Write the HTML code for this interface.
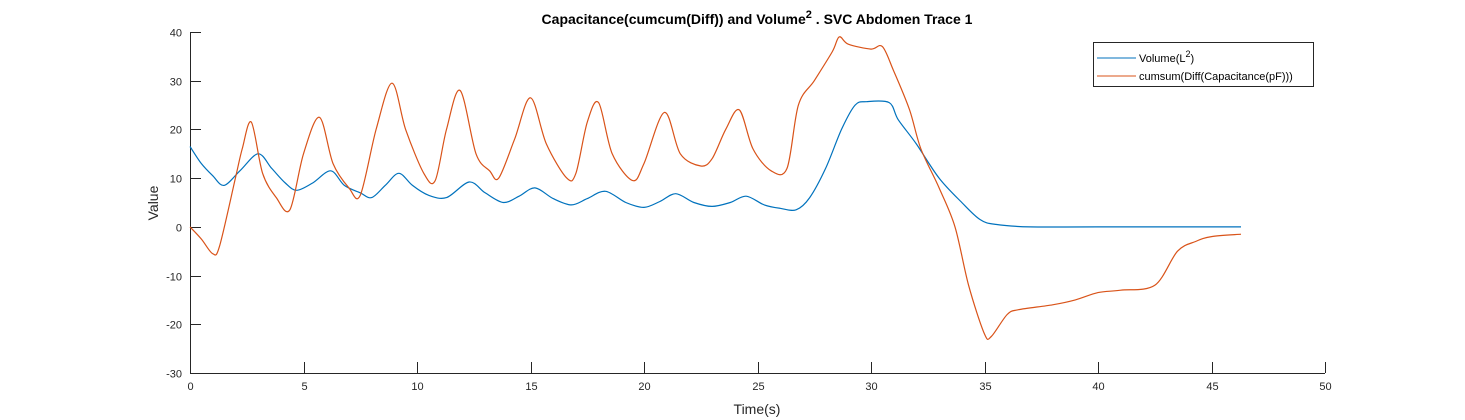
<!DOCTYPE html>
<html><head><meta charset="utf-8">
<style>
html,body{margin:0;padding:0;background:#fff;}
svg{display:block;font-family:"Liberation Sans",Arial,sans-serif;}
</style></head>
<body>
<svg id="chart" width="1465" height="420" viewBox="0 0 1465 420">
<rect x="0" y="0" width="1465" height="420" fill="#fff"/>
<text x="757" y="24" text-anchor="middle" font-size="14" font-weight="bold" fill="#000">Capacitance(cumcum(Diff)) and Volume<tspan dy="-6" font-size="11">2</tspan><tspan dy="6"> . SVC Abdomen Trace 1</tspan></text>
<g id="axes"></g>
<g id="series"></g>
<text x="757" y="414" text-anchor="middle" font-size="14" fill="#262626">Time(s)</text>
<text transform="translate(158,203) rotate(-90)" text-anchor="middle" font-size="14" fill="#262626">Value</text>
<g>
<rect x="1093.5" y="42.5" width="220" height="44" fill="#fff" stroke="#262626" stroke-width="1"/>
<line x1="1097" y1="58" x2="1136" y2="58" stroke="#0072BD" stroke-width="1"/>
<text x="1139" y="62" font-size="11" fill="#000">Volume(L<tspan dy="-5" font-size="9">2</tspan><tspan dy="5">)</tspan></text>
<line x1="1097" y1="76" x2="1136" y2="76" stroke="#D95319" stroke-width="1"/>
<text x="1139" y="80" font-size="11" fill="#000">cumsum(Diff(Capacitance(pF)))</text>
</g>
</svg>
<script>
const xTicks=[0,5,10,15,20,25,30,35,40,45,50];
const yTicks=[-30,-20,-10,0,10,20,30,40];
const volT=[0,0.5,1,1.5,2.2,3,3.6,4.2,4.7,5.4,6.2,6.8,7.5,8,8.6,9.2,9.8,10.5,11.3,12.3,13,13.8,14.5,15.2,16,16.8,17.5,18.3,19.2,20,20.7,21.4,22.2,23,23.8,24.5,25.3,26,26.7,27.3,28,28.7,29.3,29.8,30.8,31.2,32,33,34,34.8,35.5,37,40,46.3];
const volV=[16.5,13,10.5,8.5,11.5,15,12,9,7.5,9,11.5,8.5,7,6,8.5,11,8.5,6.5,6,9.2,7,5,6.3,8,5.8,4.5,5.8,7.3,5,4,5.2,6.8,5,4.2,5,6.3,4.5,3.8,3.5,6,12,20,25,25.7,25.5,22,17,10,5,1.5,0.5,0,0,0];
const capT=[0,0.5,1,1.3,2,2.3,2.7,3.2,3.8,4.4,5,5.7,6.3,7,7.5,8.2,8.9,9.5,10.3,10.8,11.3,11.9,12.6,13.2,13.6,14.3,15,15.7,16.6,17,17.5,18,18.6,19.5,20,20.9,21.6,22.5,23,23.6,24.2,24.8,25.6,26.3,26.8,27.5,28.3,28.6,29,30,30.5,31,31.7,32.2,33,33.7,34.3,35,35.3,36,36.5,38,39,40,41,42.5,43.5,44.3,45,46.3];
const capV=[0,-2.5,-5.5,-4,10,16,21.5,11,6,3.5,15,22.5,13,8,6.5,20,29.5,20,11,9.5,20,28,15,11.5,10,18,26.5,17,10,11,21.5,25.5,15,9.5,13,23.5,15,12.5,14,20,24,16,11.5,12,25,30,36,39,37.5,36.5,37,32,24,16,8,0,-12,-22,-22.5,-18,-17,-16,-15,-13.5,-13,-12,-5,-3,-2,-1.5];
const X0=190,X1=1325,Y0=373,Y1=32;
function xs(t){return X0+(t-0)/(50-0)*(X1-X0);}
function ys(v){return Y0-(v-(-30))/(40-(-30))*(Y0-Y1);}
const NS='http://www.w3.org/2000/svg';
const axes=document.getElementById('axes');
const series=document.getElementById('series');
function mk(tag,attrs,parent){const e=document.createElementNS(NS,tag);for(const k in attrs)e.setAttribute(k,attrs[k]);parent.appendChild(e);return e;}
const xa=mk('line',{x1:X0,y1:Y0+0.5,x2:X1,y2:Y0+0.5,stroke:'#262626','stroke-width':1},axes);


const ya=mk('line',{x1:X0+0.5,y1:Y1,x2:X0+0.5,y2:Y0,stroke:'#262626','stroke-width':1},axes);


xTicks.forEach(t=>{const x=Math.round(xs(t))+0.5;
 const tk=mk('line',{x1:x,y1:Y0,x2:x,y2:Y0-11,stroke:'#262626','stroke-width':1},axes);
 
 
 const lb=mk('text',{x:x,y:Y0+17,'text-anchor':'middle','font-size':11,fill:'#262626'},axes);
 lb.textContent=t;
 
 });
yTicks.forEach(v=>{const y=Math.round(ys(v))+0.5;
 const tk=mk('line',{x1:X0,y1:y,x2:X0+11,y2:y,stroke:'#262626','stroke-width':1},axes);
 
 
 const lb=mk('text',{x:X0-8,y:y+4,'text-anchor':'end','font-size':11,fill:'#262626'},axes);
 lb.textContent=v;
 
 });
function path(T,V){
 const P=T.map((t,i)=>[xs(t),ys(V[i])]);
 let d='M'+P[0][0].toFixed(1)+' '+P[0][1].toFixed(1);
 for(let i=0;i<P.length-1;i++){
  const p0=P[i-1]||P[i],p1=P[i],p2=P[i+1],p3=P[i+2]||P[i+1];
  const k=0.16;
  const c1=[p1[0]+(p2[0]-p0[0])*k,p1[1]+(p2[1]-p0[1])*k];
  const c2=[p2[0]-(p3[0]-p1[0])*k,p2[1]-(p3[1]-p1[1])*k];
  d+=' C'+c1[0].toFixed(1)+' '+c1[1].toFixed(1)+' '+c2[0].toFixed(1)+' '+c2[1].toFixed(1)+' '+p2[0].toFixed(1)+' '+p2[1].toFixed(1);
 }
 return d;}
const pv=mk('path',{d:path(volT,volV),fill:'none',stroke:'#0072BD','stroke-width':1.2,'stroke-linejoin':'round'},series);


const pc=mk('path',{d:path(capT,capV),fill:'none',stroke:'#D95319','stroke-width':1.2,'stroke-linejoin':'round'},series);


</script>
</body></html>
